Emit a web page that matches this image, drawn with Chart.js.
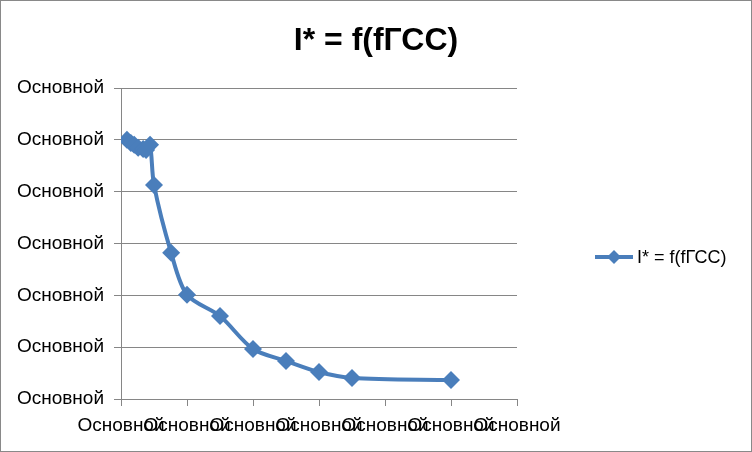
<!DOCTYPE html>
<html>
<head>
<meta charset="utf-8">
<script src="https://cdn.jsdelivr.net/npm/chart.js@4.4.0/dist/chart.umd.min.js"></script>
<style>
  body { margin: 0; background: #fff; }
  #wrap { width: 752px; height: 452px; box-sizing: border-box; border: 1px solid #898989; background: #fff; }
</style>
</head>
<body>
<div id="wrap"><canvas id="myChart" width="750" height="450"></canvas></div>
<script>
const titleText = 'I* = f(fГСС)';
const seriesLabel = 'I* = f(fГСС)';
const tickLabel = 'Основной';

// values (the source axis format was broken, units are guessed)
const xValues = [1.8, 3, 4, 5.2, 6.7, 7.6, 8.8, 10, 15.2, 20, 30, 40, 50, 60, 70, 100];
const yValues = [1.0, 0.988, 0.981, 0.969, 0.965, 0.961, 0.981, 0.826, 0.564, 0.402, 0.320, 0.193, 0.147, 0.104, 0.081, 0.073];

const blue = '#4A7EBB';
const grey = '#868686';
const font = "'Liberation Sans', Arial, sans-serif";

const points = xValues.map((x, i) => ({ x: x, y: yValues[i] }));

// title centred on the whole picture and a legend of line + diamond, like the Excel original
const excelBits = {
    id: 'excelBits',
    afterDraw(chart) {
        const c = chart.ctx;
        c.save();
        c.fillStyle = '#000';
        c.font = 'bold 32px ' + font;
        c.textAlign = 'center';
        c.textBaseline = 'middle';
        c.fillText(titleText, chart.width / 2, 40);

        const y = 256;
        c.strokeStyle = blue;
        c.lineWidth = 4;
        c.beginPath();
        c.moveTo(594, y);
        c.lineTo(632, y);
        c.stroke();
        c.fillStyle = blue;
        c.beginPath();
        c.moveTo(613, y - 7);
        c.lineTo(620, y);
        c.lineTo(613, y + 7);
        c.lineTo(606, y);
        c.closePath();
        c.fill();
        c.fillStyle = '#000';
        c.font = '18px ' + font;
        c.textAlign = 'left';
        c.fillText(chart.data.datasets[0].label, 636, y + 1);
        c.restore();
    }
};

const ctx = document.getElementById('myChart');
new Chart(ctx, {
    type: 'line',
    data: {
        datasets: [{
            label: seriesLabel,
            data: points,
            borderColor: blue,
            backgroundColor: blue,
            borderWidth: 4,
            tension: 0.3,
            pointStyle: 'rectRot',
            pointRadius: 9,
            pointHoverRadius: 9,
            pointBorderWidth: 0
        }]
    },
    options: {
        responsive: false,
        animation: false,
        layout: {
            padding: { left: 0, right: 234, top: 87, bottom: 0 }
        },
        plugins: {
            legend: { display: false },
            tooltip: { enabled: false },
            title: { display: false }
        },
        scales: {
            x: {
                type: 'linear',
                min: 0,
                max: 120,
                border: { display: true, color: grey, width: 1 },
                grid: { display: true, drawOnChartArea: false, drawTicks: true, tickLength: 7, color: grey },
                ticks: {
                    stepSize: 20,
                    color: '#000',
                    padding: 8,
                    maxRotation: 0,
                    autoSkip: false,
                    font: { family: font, size: 19 },
                    callback: () => tickLabel
                },
                afterFit(scale) { scale.height = 52; }
            },
            y: {
                min: 0,
                max: 1.2,
                border: { display: true, color: grey, width: 1 },
                grid: { color: grey, tickLength: 7 },
                ticks: {
                    stepSize: 0.2,
                    color: '#000',
                    padding: 10,
                    font: { family: font, size: 19 },
                    callback: () => tickLabel
                },
                afterFit(scale) { scale.width = 120; }
            }
        }
    },
    plugins: [excelBits]
});
</script>
</body>
</html>
